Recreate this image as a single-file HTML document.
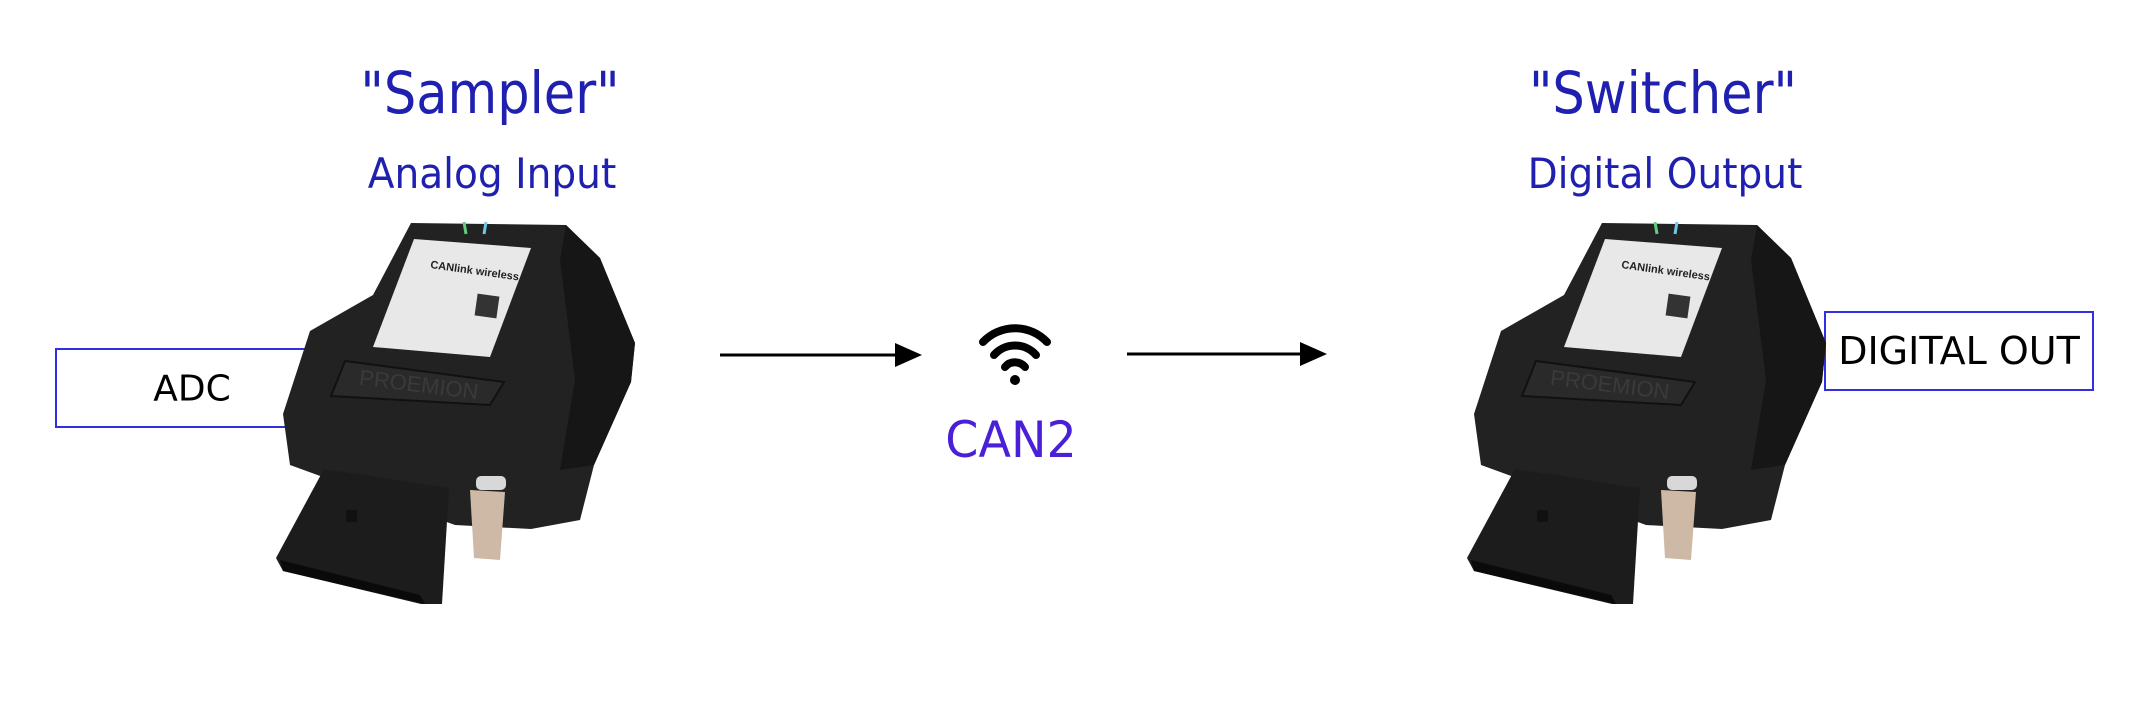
<!DOCTYPE html>
<html><head><meta charset="utf-8"><style>
html,body{margin:0;padding:0;background:#fff;}
body{width:2154px;height:718px;position:relative;overflow:hidden;font-family:"DejaVu Sans","Liberation Sans",sans-serif;}
.t{position:absolute;color:#2020b0;white-space:nowrap;transform:translateX(-50%);}
.box{position:absolute;border:2px solid #3030e0;background:#fff;box-sizing:border-box;}
.bt{position:absolute;color:#000;font-size:34px;white-space:nowrap;transform:translate(-50%,-50%);}
svg{position:absolute;left:0;top:0;}
</style></head><body>
<div class="t" style="left:490px;top:58px;font-size:58px;line-height:70px;transform:translateX(-50%) scaleX(0.88);">"Sampler"</div>
<div class="t" style="left:492px;top:148px;font-size:42px;line-height:52px;transform:translateX(-50%) scaleX(0.93);">Analog Input</div>
<div class="t" style="left:1663px;top:58px;font-size:58px;line-height:70px;transform:translateX(-50%) scaleX(0.88);">"Switcher"</div>
<div class="t" style="left:1665px;top:148px;font-size:42px;line-height:52px;transform:translateX(-50%) scaleX(0.93);">Digital Output</div>

<div class="box" style="left:55px;top:348px;width:264px;height:80px;"></div>
<div class="bt" style="left:192px;top:389px;font-size:36px;">ADC</div>
<div class="box" style="left:1824px;top:311px;width:270px;height:80px;"></div>

<svg width="2154" height="718" viewBox="0 0 2154 718">
<defs>
<g id="dev">
<polygon points="411,223 566,225 600,258 635,343 631,382 594,465 580,520 531,529 455,525 290,465 283,414 310,331 373,295" fill="#222"/>
<polygon points="566,225 600,258 635,343 631,382 594,465 560,470 575,380 560,260" fill="#161616"/>
<polygon points="345,361 504,382 490,405 331,396" fill="#2a2a2a" stroke="#111" stroke-width="2"/>
<text x="418" y="392" font-size="22" fill="#3a3a3a" font-family="Liberation Sans" transform="rotate(7 418 392)" text-anchor="middle">PROEMION</text>
<polygon points="414,239 531,248 490,357 373,347" fill="#e8e8e8"/>
<text x="430" y="268" font-size="11" fill="#222" font-weight="bold" font-family="Liberation Sans" transform="rotate(8 430 268)">CANlink wireless</text>
<rect x="476" y="295" width="22" height="22" fill="#333" transform="rotate(8 487 306)"/>
<line x1="464" y1="222" x2="466" y2="234" stroke="#5fd080" stroke-width="3"/>
<line x1="486" y1="222" x2="484" y2="234" stroke="#70c8e8" stroke-width="3"/>
<polygon points="324,469 449,488 442,604 421,604 283,571 276,558" fill="#1c1c1c"/>
<polygon points="280,560 420,595 425,604 283,571" fill="#0a0a0a"/>
<rect x="346" y="510" width="11" height="12" fill="#111"/>
<rect x="476" y="476" width="30" height="14" rx="5" fill="#d8d8d8"/>
<polygon points="470,490 505,492 500,560 474,558" fill="#cdb9a5"/>
</g>
</defs>
<use href="#dev"/>
<use href="#dev" transform="translate(1191,0)"/>
<line x1="720" y1="355" x2="900" y2="355" stroke="#000" stroke-width="3"/>
<polygon points="895,343 922,355 895,367" fill="#000"/>
<line x1="1127" y1="354" x2="1305" y2="354" stroke="#000" stroke-width="3"/>
<polygon points="1300,342 1327,354 1300,366" fill="#000"/>
<g fill="none" stroke="#000" stroke-width="8" stroke-linecap="round">
<path d="M983,342 A44,44 0 0 1 1047,342"/>
<path d="M994,355 A28,28 0 0 1 1036,355"/>
<path d="M1005,367 A13,13 0 0 1 1025,367"/>
</g>
<circle cx="1015" cy="380" r="5" fill="#000"/>
</svg>
<div class="bt" style="left:1959px;top:351px;font-size:38px;">DIGITAL OUT</div>
<div class="t" style="left:1011px;top:410px;font-size:50px;line-height:60px;color:#4a1fd8;transform:translateX(-50%) scaleX(0.95);">CAN2</div>
</body></html>
